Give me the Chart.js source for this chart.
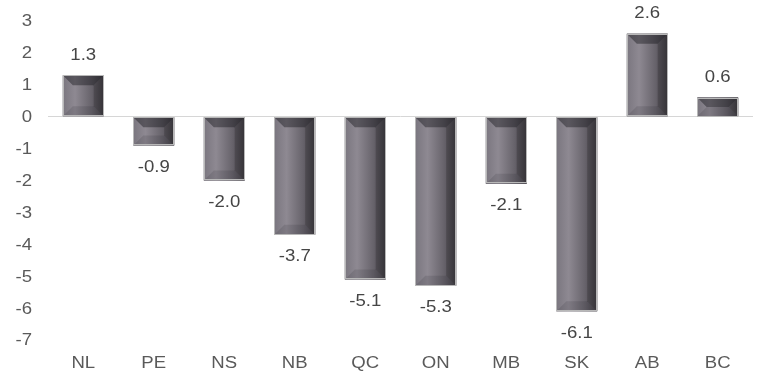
<!DOCTYPE html>
<html>
<head>
<meta charset="utf-8">
<script src="https://cdn.jsdelivr.net/npm/chart.js@4"></script>
<style>
  html, body { margin: 0; padding: 0; background: #fff; }
  #wrap { width: 758px; height: 375px; position: relative; }
</style>
</head>
<body>
<div id="wrap"><canvas id="chart"></canvas></div>
<script>
// Provinces and their values
const provinces = ['NL', 'PE', 'NS', 'NB', 'QC', 'ON', 'MB', 'SK', 'AB', 'BC'];
const values = [1.3, -0.9, -2.0, -3.7, -5.1, -5.3, -2.1, -6.1, 2.6, 0.6];
const yTicks = [3, 2, 1, 0, -1, -2, -3, -4, -5, -6, -7];

const FONT = '16px "Liberation Sans", Arial, Helvetica, sans-serif';
const STRETCH = 1.16; // text is a little wider than the plain face

// draw text stretched horizontally around its anchor
function wideText(ctx, txt, x, y, align) {
  ctx.save();
  ctx.translate(x, y);
  ctx.scale(STRETCH, 1);
  ctx.textAlign = align;
  ctx.fillText(txt, 0, 0);
  ctx.restore();
}

// Bevelled look for each bar
const bevelBars = {
  id: 'bevelBars',
  afterDatasetsDraw(chart) {
    const ctx = chart.ctx;
    chart.getDatasetMeta(0).data.forEach(bar => {
      const p = bar.getProps(['x', 'y', 'base', 'width'], true);
      const L = p.x - p.width / 2, R = p.x + p.width / 2;
      const T = Math.min(p.y, p.base), B = Math.max(p.y, p.base);
      const w = R - L, h = B - T;
      const b = Math.min(10, w / 2, h / 2);
      ctx.save();

      const g = ctx.createLinearGradient(L, 0, R, 0);
      g.addColorStop(0, '#7a767f');
      g.addColorStop(0.3, '#8e8992');
      g.addColorStop(0.7, '#67636b');
      g.addColorStop(1, '#423f45');
      ctx.fillStyle = g;
      ctx.fillRect(L, T, w, h);

      const poly = (pts, color) => {
        ctx.beginPath();
        ctx.moveTo(pts[0][0], pts[0][1]);
        for (let i = 1; i < pts.length; i++) ctx.lineTo(pts[i][0], pts[i][1]);
        ctx.closePath();
        ctx.fillStyle = color;
        ctx.fill();
      };
      poly([[R, T], [R - b, T + b], [R - b, B - b], [R, B]], 'rgba(0,0,0,0.18)');
      poly([[L, T], [R, T], [R - b, T + b], [L + b, T + b]], 'rgba(20,18,24,0.42)');
      poly([[L, B], [R, B], [R - b, B - b], [L + b, B - b]], 'rgba(20,18,24,0.12)');

      ctx.strokeStyle = '#b8b8b8';
      ctx.lineWidth = 1;
      ctx.strokeRect(Math.round(L) + 0.5, Math.round(T) + 0.5, Math.round(w) - 1, Math.round(h) - 1);
      ctx.restore();
    });
  }
};

// Axis labels and value labels
const textLayer = {
  id: 'textLayer',
  afterDraw(chart) {
    const ctx = chart.ctx;
    const xs = chart.scales.x, ys = chart.scales.y;
    ctx.save();
    ctx.font = FONT;
    ctx.textBaseline = 'middle';

    ctx.fillStyle = '#5a5a5a';
    yTicks.forEach(v => wideText(ctx, String(v), 32, ys.getPixelForValue(v) + 1, 'right'));
    provinces.forEach((p, i) => wideText(ctx, p, xs.getPixelForValue(i), 364, 'center'));

    ctx.fillStyle = '#454545';
    chart.getDatasetMeta(0).data.forEach((bar, i) => {
      const v = values[i];
      const y = v >= 0 ? bar.y - 20 : bar.y + 22;
      wideText(ctx, v.toFixed(1), bar.x, y, 'center');
    });
    ctx.restore();
  }
};

new Chart(document.getElementById('chart'), {
  type: 'bar',
  data: {
    labels: provinces,
    datasets: [{
      data: values,
      backgroundColor: '#6e6a72',
      borderWidth: 0,
      barPercentage: 0.58,
      categoryPercentage: 1
    }]
  },
  options: {
    responsive: true,
    maintainAspectRatio: false,
    animation: false,
    layout: { padding: { top: 21, right: 5, left: 0, bottom: 0 } },
    plugins: {
      legend: { display: false },
      tooltip: { enabled: false }
    },
    scales: {
      x: {
        grid: { display: false },
        border: { display: false },
        ticks: { display: false },
        afterFit(scale) { scale.height = 35; }
      },
      y: {
        min: -7,
        max: 3,
        afterBuildTicks(scale) { scale.ticks = yTicks.map(v => ({ value: v })); },
        grid: {
          drawTicks: false,
          color: c => (c.tick && c.tick.value === 0 ? '#d6d6d6' : 'transparent'),
          lineWidth: 1
        },
        border: { display: false },
        ticks: { display: false },
        afterFit(scale) { scale.width = 48; }
      }
    }
  },
  plugins: [bevelBars, textLayer]
});
</script>
</body>
</html>
